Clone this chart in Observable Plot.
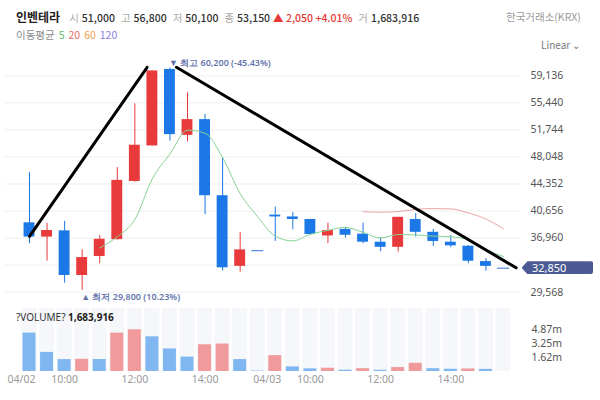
<!DOCTYPE html>
<html><head><meta charset="utf-8">
<script src="https://cdn.jsdelivr.net/npm/d3@7"></script>
<script src="https://cdn.jsdelivr.net/npm/@observablehq/plot@0.6"></script>
<style>
body{margin:0;background:#fff;font-family:"Noto Sans CJK KR","Noto Sans",sans-serif;}
#wrap{position:relative;width:600px;height:400px;overflow:hidden;background:#fff;}
.abs{position:absolute;white-space:nowrap;line-height:1;z-index:5;}
#head{left:16px;top:11px;font-size:10.5px;color:#333;}
#head .nm{font-weight:700;font-size:12px;color:#222;margin-right:3px;}
#head .lb{color:#aaa;margin-left:6px;margin-right:3px;}
#head .vl{font-weight:500;color:#333;}
#head .up{color:#e53935;font-weight:500;}
#ma{left:16px;top:30px;font-size:10.5px;color:#888;}
#ma span{margin-left:4px;}
#krx{left:506px;top:12px;font-size:10.5px;color:#999;}
#lin{left:541px;top:40px;font-size:10px;color:#777;}
#volbox{left:16px;top:312px;font-size:10px;color:#333;font-family:"Noto Sans",sans-serif;}
#volbox b{color:#222;}
#tag{left:521.5px;width:61px;height:13px;padding-left:10.5px;background:#4b5a93;color:#fff;font-size:11px;line-height:13px;font-family:"Noto Sans",sans-serif;
  clip-path:polygon(0 50%, 6px 0, 100% 0, 100% 100%, 6px 100%);border-radius:0 2px 2px 0;}
svg{position:absolute;left:0;}
</style></head><body><div id="wrap">
<div id="head" class="abs"></div>
<div id="ma" class="abs"></div>
<div id="krx" class="abs">한국거래소(KRX)</div>
<div id="lin" class="abs">Linear &#8964;</div>
<div id="volbox" class="abs"></div>
<div id="tag" class="abs"></div>
</div>
<script>
const stockName = "인벤테라";
const dates = ["04/02", "04/03"];
const times = ["09:00","09:30","10:00","10:30","11:00","11:30","12:00","12:30","13:00","13:30","14:00","14:30","15:00","15:30"];
const open  = [39050,37100,37950,31850,34450,36750,44700,49550,60000,51000,53150,42750,33100,35250,40100,39850,39500,37250,38150,37500,36400,35700,39500,37750,36400,35850,33750,32850];
const high  = [45900,38950,39250,35350,37300,46600,55300,59800,60200,56800,53850,47950,37750,35250,41200,40450,39550,39000,38400,39000,37000,39800,40300,38150,37300,35950,34150,32850];
const low   = [36200,33800,30800,29800,33450,36700,44600,49550,50200,50100,40150,32450,32300,35250,36500,38100,37400,36200,36950,36200,35100,35050,37100,35800,35650,33450,32450,32850];
const close = [37100,38000,31850,34300,36800,44850,49650,59800,51100,53150,42750,32900,35350,35250,39850,39500,37450,38000,37350,36400,35700,39800,37750,36500,35900,33800,33100,32850];
const volume = [4480000,2230000,1390000,1420000,1400000,4480000,4870000,4050000,2630000,1683916,3120000,3200000,1390000,50000,1850000,540000,310000,380000,150000,330000,140000,460000,960000,330000,260000,300000,250000,0];
const priceTicks = [29568,33264,36960,40656,44352,48048,51744,55440,59136];
const priceTickLabels = [29568,36960,40656,44352,48048,51744,55440,59136];
const volTicks = [1623333,3246667,4870000];
const timeTickLabels = ["10:00","12:00","14:00"];
const maPeriods = [5, 20, 60, 120];
const trend1 = [{i:0, p:37200}, {i:6.7, p:60300}];
const trend2 = [{i:8.37, p:60300}, {i:27.72, p:32900}];
const hoverIndex = 9;

const RED = "#e8393b", BLUE = "#1b78e6", VRED = "#f09a9c", VBLUE = "#80b7f1";
const rows = open.map((o, i) => ({
  i, o, h: high[i], l: low[i], c: close[i], v: volume[i],
  up: close[i] > o, doji: close[i] === o,
  vup: i > 0 && volume[i] > volume[i - 1]
}));
const n = rows.length;
const fmt = d3.format(",");

// header
{
  const d = rows[hoverIndex], prev = rows[hoverIndex - 1];
  const ch = d.c - prev.c, pct = ch / prev.c * 100;
  document.getElementById("head").innerHTML =
    `<span class="nm">${stockName}</span>` +
    `<span class="lb">시</span><span class="vl">${fmt(d.o)}</span>` +
    `<span class="lb">고</span><span class="vl">${fmt(d.h)}</span>` +
    `<span class="lb">저</span><span class="vl">${fmt(d.l)}</span>` +
    `<span class="lb">종</span><span class="vl">${fmt(d.c)}</span>` +
    `<span class="up" style="margin-left:3px">&#9650; ${fmt(ch)} +${pct.toFixed(2)}%</span>` +
    `<span class="lb">거</span><span class="vl">${fmt(d.v)}</span>`;
  const maCols = ["#5cbf6a", "#e86b6e", "#f0a24e", "#8b7fe0"];
  document.getElementById("ma").innerHTML = "이동평균" +
    maPeriods.map((p, k) => `<span style="color:${maCols[k]}">${p}</span>`).join("");
  document.getElementById("volbox").innerHTML = `?VOLUME? <b>${fmt(d.v)}</b>`;
}

const xs = {domain: [0, n - 1], range: [29, 503], axis: null};
const last = rows[n - 1];
const hiRow = rows.reduce((a, b) => b.h > a.h ? b : a);
const loRow = rows.reduce((a, b) => b.l < a.l ? b : a);
const pctFrom = (ref) => ((last.c - ref) / ref * 100).toFixed(2) + "%";

const main = Plot.plot({
  width: 600, height: 305, marginLeft: 29, marginRight: 97, marginTop: 0, marginBottom: 0,
  x: xs,
  y: {domain: [priceTicks[0], priceTicks[priceTicks.length - 1]], range: [291.7, 75.3]},
  style: {background: "transparent", overflow: "visible", fontFamily: "Noto Sans, sans-serif", fontSize: "10.5px"},
  marks: [
    Plot.ruleY(priceTicks, {x1: -1.4, x2: n, stroke: "#efefef"}),
    Plot.ruleX(rows, {x: "i", y1: "l", y2: "h", stroke: d => d.up ? RED : BLUE, strokeWidth: 1}),
    Plot.rect(rows.filter(d => !d.doji), {x1: d => d.i - 0.31, x2: d => d.i + 0.31, y1: "o", y2: "c", fill: d => d.up ? RED : BLUE}),
    Plot.ruleY(rows.filter(d => d.doji), {y: "c", x1: d => d.i - 0.34, x2: d => d.i + 0.34, stroke: "#5b8fdc", strokeWidth: 1.3}),
    Plot.lineY(rows, Plot.windowY({k: maPeriods[1], anchor: "end", strict: true}, {x: "i", y: "c", stroke: "#eba3a7", strokeWidth: 1, curve: "monotone-x"})),
    Plot.lineY(rows, Plot.windowY({k: maPeriods[0], anchor: "end", strict: true}, {x: "i", y: "c", stroke: "#86d393", strokeWidth: 1, curve: "monotone-x"})),
    Plot.line(trend1, {x: "i", y: "p", stroke: "#000", strokeWidth: 3}),
    Plot.line(trend2, {x: "i", y: "p", stroke: "#000", strokeWidth: 3}),
    Plot.text([hiRow], {x: "i", y: "h", text: d => `▼ 최고 ${fmt(d.h)} (${pctFrom(d.h)})`, textAnchor: "start", dx: -1, dy: -5, fill: "#6475ad", fontSize: 9, fontWeight: 600}),
    Plot.text([loRow], {x: "i", y: "l", text: d => `▲ 최저 ${fmt(d.l)} (${pctFrom(d.l)})`, textAnchor: "start", dx: -1, dy: 7, fill: "#6475ad", fontSize: 9, fontWeight: 600}),
    Plot.axisY(priceTickLabels, {anchor: "right", tickSize: 0, tickPadding: 27, tickFormat: fmt, fill: "#555", label: null})
  ]
});
main.style.top = "0px";
document.getElementById("wrap").appendChild(main);

// current price tag (positioned through the plot's y scale)
{
  const sy = main.scale("y").apply(last.c);
  const tag = document.getElementById("tag");
  tag.style.top = (sy - 6.5) + "px";
  tag.textContent = fmt(last.c);
}

const timeTicks = rows.filter(d => timeTickLabels.includes(times[d.i % times.length])).map(d => d.i);
const dateTicks = rows.filter(d => d.i % times.length === 0).map(d => d.i);
const vmax = 7350000;

const volPlot = Plot.plot({
  width: 600, height: 100, marginLeft: 29, marginRight: 97, marginTop: 8, marginBottom: 29,
  x: xs,
  y: {domain: [0, vmax], range: [71, 8]},
  style: {background: "transparent", overflow: "visible", fontFamily: "Noto Sans, sans-serif", fontSize: "10.5px"},
  marks: [
    Plot.rect(rows, {x1: d => d.i - 0.43, x2: d => d.i + 0.43, y1: 0, y2: vmax, fill: "#f5f7fa"}),
    Plot.rect(rows.filter(d => d.v > 0), {x1: d => d.i - 0.37, x2: d => d.i + 0.37, y1: 0, y2: "v", fill: d => d.vup ? VRED : VBLUE}),
    Plot.axisY(volTicks, {anchor: "right", tickSize: 0, tickPadding: 28, tickFormat: v => (v / 1e6).toFixed(2) + "m", fill: "#555", label: null}),
    Plot.axisX(timeTicks, {anchor: "bottom", tickSize: 0, tickPadding: 4, tickFormat: i => times[i % times.length], fill: "#999", label: null}),
    Plot.axisX(dateTicks, {anchor: "bottom", tickSize: 0, tickPadding: 4, dx: -8, tickFormat: i => dates[Math.floor(i / times.length)], fill: "#999", label: null})
  ]
});
volPlot.style.top = "300px";
document.getElementById("wrap").appendChild(volPlot);
</script>
</body></html>
